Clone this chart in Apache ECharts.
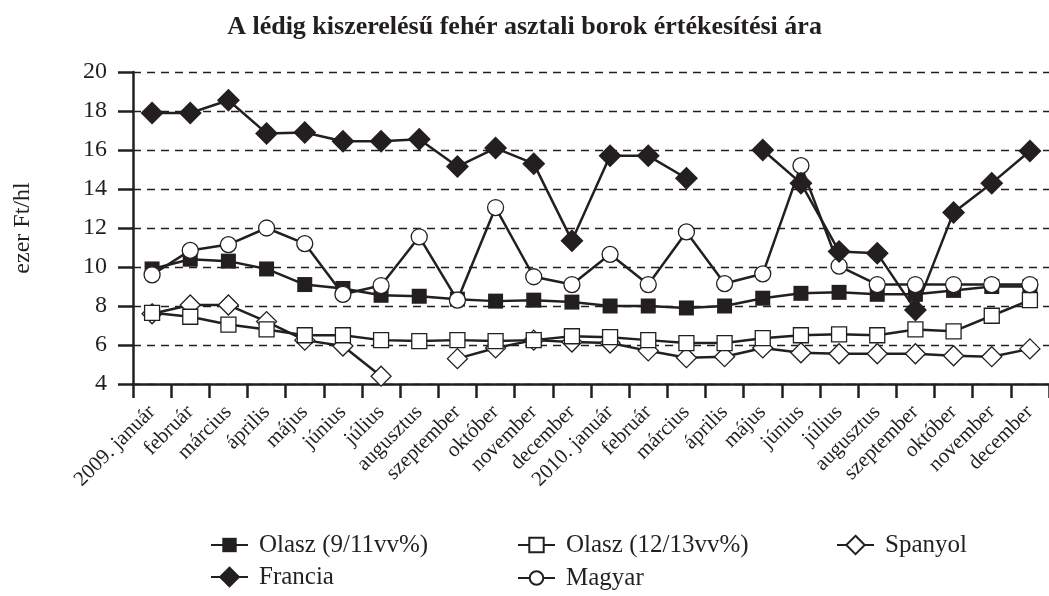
<!DOCTYPE html>
<html>
<head>
<meta charset="utf-8">
<script src="https://cdn.jsdelivr.net/npm/echarts@6/dist/echarts.min.js"></script>
<style>
  html, body { margin: 0; padding: 0; background: #fff; }
  #main { width: 1049px; height: 596px; }
</style>
</head>
<body>
<div id="main"></div>
<script>
(function() {

    // hónapok
    var months = ['2009. január', 'február', 'március', 'április', 'május', 'június',
        'július', 'augusztus', 'szeptember', 'október', 'november', 'december',
        '2010. január', 'február', 'március', 'április', 'május', 'június',
        'július', 'augusztus', 'szeptember', 'október', 'november', 'december'];

    // ezer Ft/hl
    var olasz911 = [9.9, 10.4, 10.3, 9.9, 9.1, 8.9, 8.55, 8.5, 8.35, 8.25, 8.3, 8.2,
        8.0, 8.0, 7.9, 8.0, 8.4, 8.65, 8.7, 8.6, 8.6, 8.8, 9.0, 9.0];
    var olasz1213 = [7.65, 7.45, 7.05, 6.8, 6.5, 6.5, 6.25, 6.2, 6.25, 6.2, 6.25, 6.45,
        6.4, 6.25, 6.1, 6.1, 6.35, 6.5, 6.55, 6.5, 6.8, 6.7, 7.5, 8.3];
    var spanyol = [7.6, 8.05, 8.05, 7.2, 6.25, 5.95, 4.4, null, 5.3, 5.85, 6.25, 6.15,
        6.1, 5.7, 5.35, 5.4, 5.85, 5.6, 5.55, 5.55, 5.55, 5.45, 5.4, 5.8];
    var francia = [17.9, 17.9, 18.55, 16.85, 16.9, 16.45, 16.45, 16.55, 15.15, 16.1, 15.3, 11.35,
        15.7, 15.7, 14.55, null, 16.0, 14.3, 10.8, 10.7, 7.8, 12.8, 14.3, 15.95];
    var magyar = [9.6, 10.85, 11.15, 12.0, 11.2, 8.6, 9.05, 11.55, 8.3, 13.05, 9.5, 9.1,
        10.65, 9.1, 11.8, 9.15, 9.65, 15.2, 10.05, 9.1, 9.1, 9.1, 9.1, 9.1];

    var yTicks = { min: 4, max: 20, interval: 2 };

    var ink = '#231f20';
    var font = '"Liberation Serif", "Times New Roman", serif';
    var legendFontSize = 25;

    var line = function(name, data, symbol, size, filled, z) {
        return {
            name: name,
            type: 'line',
            data: data,
            symbol: symbol,
            symbolSize: size,
            showAllSymbol: true,
            connectNulls: false,
            z: z,
            lineStyle: { color: ink, width: 2.5 },
            itemStyle: {
                color: filled ? ink : '#fff',
                borderColor: ink,
                borderWidth: filled ? 0 : 1.3
            },
            emphasis: { disabled: true },
            animation: false
        };
    };

    // egy jelmagyarázat-elem; a jel mérete itemHeight * 0.8
    var legendItem = function(name, left, centerY, iconH) {
        return {
            left: left,
            top: centerY - Math.max(iconH, legendFontSize) / 2,
            padding: 0,
            itemWidth: 37,
            itemHeight: iconH,
            data: [name],
            textStyle: { fontFamily: font, fontSize: legendFontSize, color: ink, padding: [0, 0, 0, 6] }
        };
    };

    var myChart = echarts.init(document.getElementById('main'));
    var option = {
        backgroundColor: '#fff',
        animation: false,
        title: {
            text: 'A lédig kiszerelésű fehér asztali borok értékesítési ára',
            left: 'center',
            top: 9,
            textStyle: { fontFamily: font, fontSize: 26, fontWeight: 'bold', color: ink }
        },
        legend: [
            legendItem('Olasz (9/11vv%)', 210, 545, 18),
            legendItem('Olasz (12/13vv%)', 517, 545, 18),
            legendItem('Spanyol', 836, 545, 23),
            legendItem('Francia', 210, 578, 27),
            legendItem('Magyar', 517, 578, 17)
        ],
        grid: { left: 133, top: 72, right: -2, bottom: 212 },
        xAxis: {
            type: 'category',
            data: months,
            boundaryGap: true,
            axisLine: { lineStyle: { color: ink, width: 2.5 } },
            axisTick: { show: true, length: 14, lineStyle: { color: ink, width: 2.5 } },
            axisLabel: {
                interval: 0,
                rotate: 45,
                margin: 25,
                fontFamily: font,
                fontSize: 21,
                color: ink
            },
            splitLine: { show: false }
        },
        yAxis: {
            type: 'value',
            min: yTicks.min,
            max: yTicks.max,
            interval: yTicks.interval,
            name: 'ezer Ft/hl',
            nameLocation: 'middle',
            nameGap: 98,
            nameTextStyle: { fontFamily: font, fontSize: 24, color: ink },
            axisLine: { show: true, lineStyle: { color: ink, width: 2.5 } },
            axisTick: { show: true, length: 15, lineStyle: { color: ink, width: 2.5 } },
            axisLabel: { margin: 26, fontFamily: font, fontSize: 24, color: ink },
            splitLine: { show: true, lineStyle: { color: ink, width: 1.3, type: [8, 6] } }
        },
        series: [
            line('Olasz (9/11vv%)', olasz911, 'rect', 15, true, 2),
            line('Spanyol', spanyol, 'diamond', 20, false, 3),
            line('Olasz (12/13vv%)', olasz1213, 'rect', 15, false, 4),
            line('Magyar', magyar, 'circle', 16, false, 5),
            line('Francia', francia, 'diamond', 23, true, 6)
        ]
    };
    myChart.setOption(option);

})();
</script>
</body>
</html>
